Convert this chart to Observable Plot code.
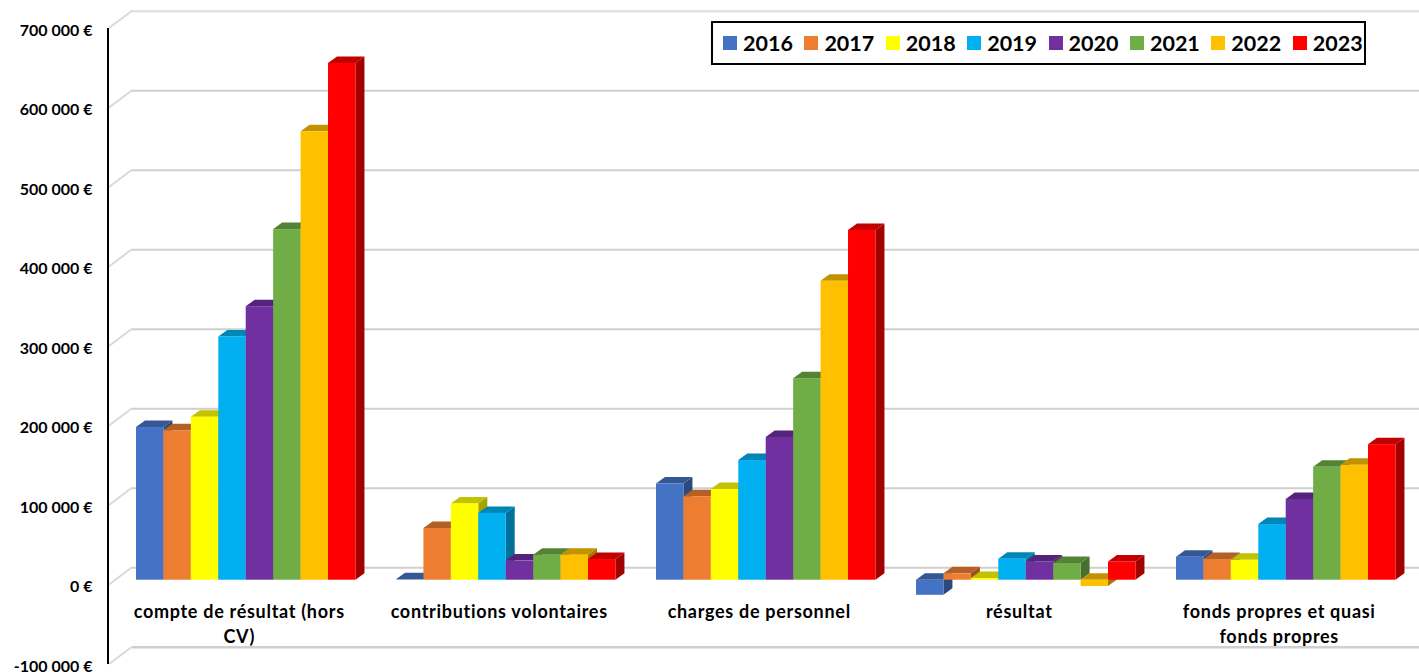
<!DOCTYPE html>
<html>
<head>
<meta charset="utf-8">
<script src="https://cdn.jsdelivr.net/npm/d3@7"></script>
<script src="https://cdn.jsdelivr.net/npm/@observablehq/plot@0.6"></script>
<style>
  html, body { margin: 0; padding: 0; background: #fff; overflow: hidden; }
  #wrap { position: relative; width: 1419px; height: 672px; }
  #legend { position: absolute; left: 711px; top: 21px; width: 651px; height: 40px; border: 2px solid #000;
    display: flex; box-sizing: content-box; background: #fff; font: 700 21.5px Lato, sans-serif; color: #000; }
  #legend .item { width: 81.4px; flex: none; display: flex; align-items: center; box-sizing: border-box; padding-left: 10px; }
  #legend .sw { width: 14px; height: 14px; margin-right: 6px; flex: none; }
  svg { display: block; }
  .cat text { letter-spacing: 0.7px; }
</style>
</head>
<body>
<div id="wrap"><div id="chart"></div><div id="legend"></div></div>
<script>
const categories = [
  "compte de résultat (hors\nCV)",
  "contributions volontaires",
  "charges de personnel",
  "résultat",
  "fonds propres et quasi\nfonds propres"
];
const years = ["2016", "2017", "2018", "2019", "2020", "2021", "2022", "2023"];
const colors = ["#4472C4", "#ED7D31", "#FFFF00", "#00B0F0", "#7030A0", "#70AD47", "#FFC000", "#FF0000"];
const yTicks = [-100000, 0, 100000, 200000, 300000, 400000, 500000, 600000, 700000];

const v2016 = [192000, 500, 121000, -19000, 29000];
const v2017 = [188000, 65000, 105000, 8000, 26000];
const v2018 = [205000, 96000, 114000, 2000, 25000];
const v2019 = [306000, 84000, 150500, 26500, 70000];
const v2020 = [344000, 24000, 179500, 23000, 101500];
const v2021 = [441000, 31500, 253500, 21000, 142000];
const v2022 = [564000, 31500, 376000, -8000, 144500];
const v2023 = [650000, 26000, 440000, 23000, 170500];
const series = [v2016, v2017, v2018, v2019, v2020, v2021, v2022, v2023];

// x is measured in category groups: one unit per category, each bar a fixed share of it.
const barShare = 0.1055;
const table = categories.flatMap((category, i) =>
  years.map((year, j) => ({
    category, year, value: series[j][i], color: colors[j],
    start: i + j * barShare, end: i + (j + 1) * barShare
  }))
);
const labelRows = categories.map((category, i) => ({category, at: i + 4 * barShare}));

const depthX = 9, depthY = 6.5;
const shade = (c, k) => { const r = d3.rgb(c); return d3.rgb(r.r * k, r.g * k, r.b * k).formatHex(); };

function bars3d(index, scales, values, dims, ctx, next) {
  const g = next(index, scales, values, dims, ctx);
  const rects = Array.from(g.querySelectorAll("rect"));
  rects.forEach((rect, k) => {
    const x = +rect.getAttribute("x"), w = +rect.getAttribute("width");
    const y = +rect.getAttribute("y"), h = +rect.getAttribute("height");
    const base = table[index[k]].color;
    const side = document.createElementNS("http://www.w3.org/2000/svg", "polygon");
    side.setAttribute("points", [[x + w, y], [x + w + depthX, y - depthY], [x + w + depthX, y + h - depthY], [x + w, y + h]].join(" "));
    side.setAttribute("fill", shade(base, 0.64));
    const top = document.createElementNS("http://www.w3.org/2000/svg", "polygon");
    top.setAttribute("points", [[x, y], [x + depthX, y - depthY], [x + w + depthX, y - depthY], [x + w, y]].join(" "));
    top.setAttribute("fill", shade(base, 0.76));
    g.insertBefore(side, rect);
    g.insertBefore(top, rect);
  });
  return g;
}

const frontDy = 4.8, backDy = -12.4;
function wall(index, scales, values, dims) {
  const g = d3.create("svg:g");
  const ys = Array.from(index, i => values.y[i]);
  const left = dims.marginLeft;
  for (const y of ys) {
    g.append("line").attr("x1", left + 1).attr("x2", left + 24)
      .attr("y1", y + frontDy).attr("y2", y + backDy)
      .attr("stroke", "#d9d9d9").attr("stroke-width", 2);
  }
  g.append("line").attr("x1", left).attr("x2", left)
    .attr("y1", d3.min(ys) + frontDy).attr("y2", d3.max(ys) + frontDy)
    .attr("stroke", "#000").attr("stroke-width", 2);
  return g.node();
}

const euro = d => d3.format(",")(d).replace(/,/g, " ").replace("−", "-") + " €";

const chart = Plot.plot({
  width: 1419,
  height: 672,
  marginLeft: 108,
  marginRight: 0,
  marginTop: 23.2,
  marginBottom: 12.8,
  style: {background: "#fff", overflow: "visible"},
  x: {domain: [-0.10769, 4.9346], axis: null, label: null},
  y: {domain: [-100000, 700000], axis: null, label: null},
  marks: [
    Plot.ruleY(yTicks, {y: d => d, dy: backDy, insetLeft: 24,
      stroke: d => d === 700000 ? "#e2e2e2" : "#cfcfcf", strokeWidth: d => d === 700000 || d === -100000 ? 2.5 : 2}),
    Plot.ruleY(yTicks, {y: d => d, render: wall}),
    Plot.axisY(yTicks, {anchor: "left", tickSize: 0, tickPadding: 16, dy: 7, tickFormat: euro, label: null,
      fontFamily: "Lato", fontWeight: 700, fontSize: 16, fill: "#000"}),
    Plot.rectY(table, {x1: "start", x2: "end", y1: () => 0, y2: "value", fill: "color", render: bars3d}),
    Plot.text(labelRows, {x: "at", text: "category", frameAnchor: "bottom", lineAnchor: "top", dy: -59, dx: -7,
      className: "cat", lineHeight: 1.39, fontFamily: "Lato", fontWeight: 700, fontSize: 18, fill: "#000"})
  ]
});
document.getElementById("chart").appendChild(chart);

const legend = d3.select("#legend");
years.forEach((y, j) => {
  const item = legend.append("div").attr("class", "item");
  item.append("span").attr("class", "sw").style("background", colors[j]);
  item.append("span").text(y);
});
</script>
</body>
</html>
